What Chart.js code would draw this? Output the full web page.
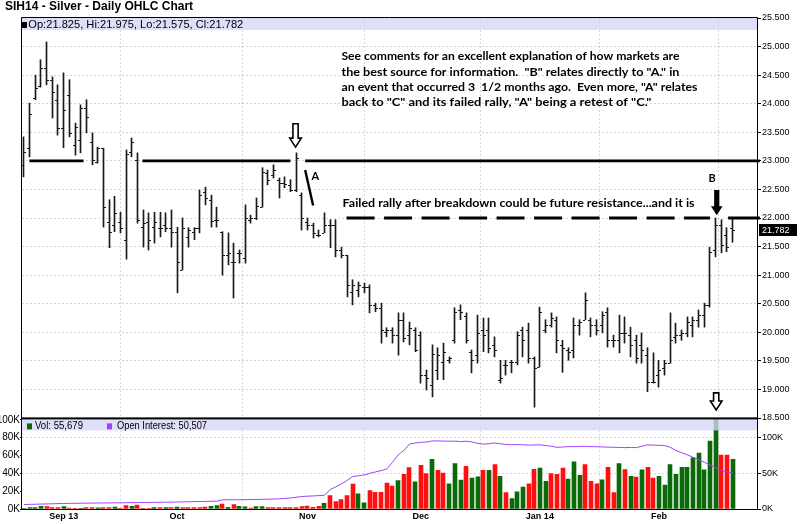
<!DOCTYPE html>
<html>
<head>
<meta charset="utf-8">
<script src="https://cdn.jsdelivr.net/npm/chart.js@4.4.0/dist/chart.umd.min.js"></script>
<style>
  html, body { margin: 0; padding: 0; background: #fff; }
  #wrap { position: relative; width: 800px; height: 524px; overflow: hidden; }
  #priceCanvas { position: absolute; left: 0; top: 0; }
  #volCanvas { position: absolute; left: 0; top: 412px; }
</style>
</head>
<body>
<div id="wrap">
  <canvas id="priceCanvas" width="800" height="430"></canvas>
  <canvas id="volCanvas" width="800" height="112"></canvas>
</div>
<script>
// SIH14 daily OHLC with volume / open interest panel

const chartTitle = 'SIH14 - Silver - Daily OHLC Chart';

const dates = [
  '2013-08-22','2013-08-23','2013-08-26','2013-08-27','2013-08-28','2013-08-29','2013-08-30',
  '2013-09-03','2013-09-04','2013-09-05','2013-09-06','2013-09-09','2013-09-10','2013-09-11','2013-09-12','2013-09-13',
  '2013-09-16','2013-09-17','2013-09-18','2013-09-19','2013-09-20','2013-09-23','2013-09-24','2013-09-25','2013-09-26','2013-09-27','2013-09-30',
  '2013-10-01','2013-10-02','2013-10-03','2013-10-04','2013-10-07','2013-10-08','2013-10-09','2013-10-10','2013-10-11',
  '2013-10-14','2013-10-15','2013-10-16','2013-10-17','2013-10-18','2013-10-21','2013-10-22','2013-10-23','2013-10-24','2013-10-25',
  '2013-10-28','2013-10-29','2013-10-30','2013-10-31',
  '2013-11-01','2013-11-04','2013-11-05','2013-11-06','2013-11-07','2013-11-08','2013-11-11','2013-11-12','2013-11-13','2013-11-14','2013-11-15',
  '2013-11-18','2013-11-19','2013-11-20','2013-11-21','2013-11-22','2013-11-25','2013-11-26','2013-11-27','2013-11-29',
  '2013-12-02','2013-12-03','2013-12-04','2013-12-05','2013-12-06','2013-12-09','2013-12-10','2013-12-11','2013-12-12','2013-12-13',
  '2013-12-16','2013-12-17','2013-12-18','2013-12-19','2013-12-20','2013-12-23','2013-12-24','2013-12-26','2013-12-27','2013-12-30','2013-12-31',
  '2014-01-02','2014-01-03','2014-01-06','2014-01-07','2014-01-08','2014-01-09','2014-01-10','2014-01-13','2014-01-14','2014-01-15',
  '2014-01-16','2014-01-17','2014-01-21','2014-01-22','2014-01-23','2014-01-24','2014-01-27','2014-01-28','2014-01-29','2014-01-30','2014-01-31',
  '2014-02-03','2014-02-04','2014-02-05','2014-02-06','2014-02-07','2014-02-10','2014-02-11','2014-02-12','2014-02-13','2014-02-14',
  '2014-02-18','2014-02-19','2014-02-20','2014-02-21'
];

const opens = [
  22.93,23.23,24.10,24.31,24.63,24.42,24.07,
  23.58,24.15,23.28,23.37,23.93,23.33,22.98,23.22,21.93,21.88,
  21.93,21.62,23.16,23.02,21.84,21.93,21.84,21.83,21.88,21.83,
  21.76,21.09,21.67,21.76,21.83,22.45,22.32,21.97,21.76,21.35,
  21.23,21.39,21.30,21.97,22.00,22.19,22.79,22.75,22.67,22.61,
  22.58,22.49,22.40,21.93,21.88,21.70,21.74,21.88,21.88,21.44,
  21.35,20.70,20.74,20.79,20.79,20.48,20.43,20.01,20.04,19.95,
  20.22,19.95,20.04,19.95,19.25,19.08,19.34,19.48,19.51,19.86,
  20.39,20.29,19.66,19.60,20.04,20.04,19.78,19.17,19.43,19.48,
  19.48,20.04,20.04,19.55,19.40,20.04,20.13,20.22,19.78,19.69,
  19.69,20.13,20.22,20.22,20.13,20.13,20.36,19.86,19.86,19.99,
  19.95,19.86,19.78,19.60,19.13,19.25,19.38,19.46,19.92,19.95,
  19.99,20.13,20.22,20.30,20.48,21.44,21.88,21.70,21.825
];
const highs = [
  23.42,24.01,24.50,24.77,25.08,24.47,24.33,
  24.54,24.42,23.66,23.98,24.07,23.49,23.24,23.22,22.32,22.38,
  22.10,23.19,23.40,23.14,22.14,22.09,22.10,22.10,22.09,22.14,
  21.84,22.00,21.83,21.83,22.49,22.54,22.40,22.19,21.76,21.74,
  21.56,21.44,22.23,22.05,22.35,22.88,22.84,22.93,22.70,22.72,
  22.67,23.14,22.44,22.00,21.91,21.79,22.09,21.97,21.97,21.49,
  21.35,20.92,20.88,20.86,20.83,20.51,20.51,20.08,20.08,20.34,
  20.34,20.18,20.08,20.01,19.34,19.78,19.73,19.81,19.57,20.43,
  20.48,20.34,19.69,20.30,20.25,20.25,19.92,19.51,19.51,19.51,
  20.01,20.09,20.16,19.57,20.44,20.22,20.34,20.27,19.86,19.73,
  20.25,20.22,20.69,20.25,20.22,20.36,20.43,19.95,20.30,20.27,
  20.09,19.95,19.99,19.73,19.64,19.51,19.51,20.34,20.16,20.04,
  20.27,20.27,20.39,20.51,21.49,22.00,21.97,21.83,21.975
];
const lows = [
  22.72,23.07,24.07,24.29,24.33,23.75,23.45,
  23.23,23.42,23.10,23.14,23.49,22.93,22.96,21.84,21.48,21.76,
  21.74,21.28,23.07,21.91,21.49,21.44,21.56,21.67,21.76,21.49,
  20.69,21.09,21.49,21.62,21.74,22.23,21.84,21.84,21.00,21.18,
  20.60,21.21,21.21,21.91,21.97,22.19,22.58,22.70,22.35,22.53,
  22.46,22.46,21.79,21.79,21.65,21.67,21.74,21.48,21.32,21.30,
  20.62,20.48,20.62,20.69,20.34,20.36,19.81,19.92,19.81,19.60,
  19.83,19.78,19.66,19.11,18.99,18.87,19.17,19.17,19.46,19.81,
  20.22,19.81,19.29,19.46,19.66,19.64,19.57,19.11,19.25,19.29,
  19.43,19.57,19.46,18.69,19.39,19.99,20.09,19.64,19.30,19.51,
  19.55,19.95,20.22,19.92,19.95,19.99,19.74,19.74,19.64,19.81,
  19.57,19.46,19.46,18.96,19.11,19.04,19.25,19.46,19.81,19.86,
  19.92,19.92,20.09,20.09,20.44,21.32,21.39,21.41,21.575
];
const closes = [
  23.15,23.82,24.28,24.63,24.42,24.21,23.58,
  23.89,23.49,23.59,23.92,23.77,23.02,23.22,22.19,21.76,22.09,
  21.83,23.12,23.33,21.97,21.91,21.62,21.93,21.83,21.83,21.76,
  21.23,21.83,21.79,21.83,22.40,22.35,21.95,21.97,21.35,21.39,
  21.23,21.39,22.00,22.00,22.21,22.81,22.67,22.84,22.61,22.60,
  22.49,23.05,22.00,21.88,21.74,21.70,21.88,21.88,21.44,21.35,
  20.83,20.83,20.83,20.79,20.48,20.43,20.04,20.04,19.95,20.22,
  19.90,20.08,19.69,19.25,19.20,19.62,19.60,19.66,19.55,20.36,
  20.36,19.86,19.51,19.99,19.95,19.73,19.69,19.20,19.43,19.48,
  19.95,19.86,19.55,19.38,20.36,20.13,20.25,19.86,19.73,19.66,
  20.13,20.18,20.57,20.13,20.04,20.30,19.86,19.86,19.99,19.99,
  19.78,19.55,19.69,19.13,19.13,19.34,19.46,19.86,19.95,19.99,
  20.18,20.22,20.30,20.48,21.40,21.88,21.53,21.50,21.782
];

// volume and open interest in thousands of contracts
const volumes = [
  0.5,1.5,1.5,3,2.6,1.5,1.5,
  2.6,1,0.3,0.3,1.5,1.5,1.2,1.5,1.5,2.2,
  0.3,3.8,3,4.5,0.3,0.3,1.5,1.5,1.5,1.5,
  2.2,1.5,1.5,1.5,1.5,2.2,3,3.8,5.6,1.9,
  4.9,3,2.3,1.1,2.6,2.6,1.5,1.5,1.5,1.5,
  1.5,1.5,2.6,3.4,1.9,3,6.4,15,8.3,10.5,
  15,28,17,6.8,20.7,18.8,18.8,29,25.6,32,
  38.9,46.4,30.6,49,39.6,55.8,43.4,40.4,28.3,50.9,
  32.5,47.9,34.7,36.2,43.4,43.4,49.8,36.6,18.5,11.7,
  19.2,24.5,28.3,44.5,46,30.9,39.6,38.9,46,33.6,
  52.8,37.7,49.8,30.9,28.3,32.8,46.8,18.5,50.9,44.2,
  36.6,35.8,43.8,46.8,34.7,36.6,26.8,49.8,38.9,46.8,
  46.8,57.4,62.6,43.8,76.2,104,60.4,60.4,55.679
];
const volumeUp = [
  1,1,1,1,0,0,0,
  1,0,0,1,0,0,1,0,0,1,
  0,0,1,0,0,0,1,0,1,0,
  1,0,0,0,0,0,1,1,0,1,
  0,1,1,0,1,1,0,0,0,0,
  0,0,0,0,0,0,1,0,0,0,
  0,0,1,1,0,0,0,0,0,1,
  0,0,1,0,0,1,0,0,1,1,
  1,0,1,1,0,1,0,1,0,1,
  1,1,0,0,1,1,0,0,0,1,
  1,1,0,0,0,1,0,0,1,0,
  1,0,1,0,0,1,1,1,1,1,
  1,1,1,1,1,1,0,0,1
];
const openInterest = [
  6.3,6.5,6.7,6.9,7.1,7.3,7.5,
  7.7,7.9,8.0,8.1,8.2,8.3,8.4,8.5,8.5,8.6,
  8.7,8.8,8.9,9.0,9.1,9.2,9.3,9.4,9.5,9.6,
  9.8,10.0,10.2,10.3,10.5,10.6,10.8,11.0,12.8,13.0,
  13.0,12.9,13.1,13.3,13.4,13.6,13.8,14.0,14.3,14.8,
  15.5,16.5,17.5,18.0,18.3,18.8,19.2,27.3,31.0,35.2,
  40.0,45.5,46.5,47.8,50.0,52.0,53.8,56.2,65.5,75.8,
  82,91,92.5,93.4,94,95.4,95.4,95.2,95,95.2,
  94.5,95,94,92,91,91.5,92.6,91.5,90.5,90,
  90.3,90,89.5,89.8,90,89,88,86.5,86.8,87.5,
  87.3,87.8,88,87.5,87.3,87,86.7,86.5,86.3,86,
  86.3,86,88,89.8,89.5,89.3,89,86.5,82,79,
  76,72.5,69,65.5,62,58,53.8,52,50.507
];

const priceTicks = [18.5, 19, 19.5, 20, 20.5, 21, 21.5, 22, 22.5, 23, 23.5, 24, 24.5, 25, 25.5];
const volTicks = [0, 20, 40, 60, 80, 100];
const oiTicks = [0, 50, 100];

// notes drawn on the price panel (bar index, price)
const resistanceLevel = 23.0;
const resistanceSpans = [[0.95, 10.5], [20.9, 47.0], [49.6, 129.8]];
const failedLevel = 22.0;
const failedDashed = [56.9, 121.0];
const failedSolid = [124.2, 129.8];
const slashA = [[49.6, 22.84], [51.0, 22.22]];
const arrows = [
  { at: 47.9, top: 23.65, bottom: 23.24, filled: false },
  { at: 122.2, top: 22.49, bottom: 22.05, filled: true },
  { at: 122.1, top: 18.94, bottom: 18.64, filled: false }
];
const commentLines = [
  'See comments for an excellent explanation of how markets are',
  'the best source for information.  "B" relates directly to "A." in',
  'an event that occurred 3  1/2 months ago.  Even more, "A" relates',
  'back to "C" and its failed rally, "A" being a retest of "C."'
];
const commentLevels = [24.835, 24.56, 24.29, 24.02];
const commentWidths = [338, 338, 356, 310];
const failedNote = 'Failed rally after breakdown could be future resistance...and it is';

const barInk = '#1a1a1a';
const volGreen = '#0a6a0a';
const volRed = '#ff1010';
const oiPurple = '#a040ff';
const gridGrey = 'rgba(0,0,0,0.16)';
const bandLavender = 'rgba(214,214,248,0.78)';
const axisFont = { family: "'Liberation Sans', Arial, sans-serif", size: 9 };
const volFont = { family: "'Liberation Sans', Arial, sans-serif", size: 10 };
const xMin = -0.35, xMax = 129.3;
const last = dates.length - 1;

const monthNames = ['Jan','Feb','Mar','Apr','May','Jun','Jul','Aug','Sep','Oct','Nov','Dec'];
const monthStarts = dates.map((d, i) => i).filter(i => i > 0 && dates[i].slice(5, 7) !== dates[i - 1].slice(5, 7));

function monthLabel(i) {
  const name = monthNames[+dates[i].slice(5, 7) - 1];
  if (i === monthStarts[0] || dates[i].slice(5, 7) === '01') return name + ' ' + dates[i].slice(2, 4);
  return name;
}

function fitText(ctx, text, x, y, width) {
  const w = ctx.measureText(text).width;
  ctx.save();
  ctx.translate(x, y);
  ctx.scale(width / w, 1);
  ctx.fillText(text, 0, 0);
  ctx.restore();
}

function drawArrow(ctx, cx, yTop, yBot, filled) {
  const stem = 2.6, head = 5.8, headH = 9;
  ctx.beginPath();
  ctx.moveTo(cx - stem, yTop);
  ctx.lineTo(cx + stem, yTop);
  ctx.lineTo(cx + stem, yBot - headH);
  ctx.lineTo(cx + head, yBot - headH);
  ctx.lineTo(cx, yBot);
  ctx.lineTo(cx - head, yBot - headH);
  ctx.lineTo(cx - stem, yBot - headH);
  ctx.closePath();
  if (filled) {
    ctx.fillStyle = '#000';
    ctx.fill();
  } else {
    ctx.fillStyle = '#fff';
    ctx.fill();
    ctx.lineWidth = 1.6;
    ctx.strokeStyle = '#000';
    ctx.stroke();
  }
}

function timeAxis(showLabels) {
  return {
    type: 'linear',
    min: xMin,
    max: xMax,
    offset: false,
    afterBuildTicks: s => { s.ticks = monthStarts.map(v => ({ value: v })); },
    grid: { color: gridGrey, drawTicks: false },
    border: { display: false, dash: [2, 2] },
    ticks: showLabels
      ? { autoSkip: false, maxRotation: 0, padding: 2, color: '#000',
          font: { family: axisFont.family, size: 9, weight: 'bold' },
          callback: v => monthLabel(v) }
      : { display: false },
    afterFit: s => { s.height = showLabels ? 15 : 0; }
  };
}

// snap bars to whole pixels so the thin OHLC lines stay crisp
const snapBars = {
  id: 'snapBars',
  beforeDatasetsDraw(chart) {
    chart.data.datasets.forEach((ds, di) => {
      const meta = chart.getDatasetMeta(di);
      if (meta.type !== 'bar') return;
      meta.data.forEach(el => { el.x = ds.barThickness % 2 ? Math.floor(el.x) + 0.5 : Math.round(el.x); });
    });
  }
};

const ohlcTicks = {
  id: 'ohlcTicks',
  afterDatasetsDraw(chart) {
    const { ctx, scales: { y } } = chart;
    const bars = chart.getDatasetMeta(0).data;
    ctx.save();
    ctx.fillStyle = barInk;
    bars.forEach((bar, i) => {
      const yo = Math.round(y.getPixelForValue(opens[i]));
      const yc = Math.round(y.getPixelForValue(closes[i]));
      ctx.fillRect(bar.x - 2.5, yo, 2, 1);
      ctx.fillRect(bar.x + 0.5, yc, 2, 1);
    });
    ctx.restore();
  }
};

const priceDecor = {
  id: 'priceDecor',
  beforeDatasetsDraw(chart) {
    const { ctx, chartArea: a } = chart;
    ctx.save();
    ctx.fillStyle = bandLavender;
    ctx.fillRect(a.left, a.top, a.right - a.left, 12);
    ctx.fillStyle = '#000';
    ctx.fillRect(a.left, a.top + 4, 5, 6);
    ctx.font = "10.5px 'Liberation Sans', Arial, sans-serif";
    ctx.textBaseline = 'middle';
    const info = 'Op:' + opens[last].toFixed(3) + ', Hi:' + highs[last].toFixed(3) +
      ', Lo:' + lows[last].toFixed(3) + ', Cl:' + closes[last].toFixed(3);
    fitText(ctx, info, a.left + 6.3, a.top + 7, 215);
    ctx.restore();
  },
  afterDraw(chart) {
    const { ctx, chartArea: a, scales: { x, y } } = chart;
    const px = v => x.getPixelForValue(v);
    const py = v => y.getPixelForValue(v);
    ctx.save();

    // resistance line at 23 and failed-rally line at 22
    ctx.strokeStyle = '#000';
    ctx.lineWidth = 2.6;
    ctx.beginPath();
    resistanceSpans.forEach(([s, e]) => {
      ctx.moveTo(px(s), py(resistanceLevel));
      ctx.lineTo(px(e), py(resistanceLevel));
    });
    ctx.stroke();
    ctx.lineWidth = 3;
    ctx.setLineDash([28, 9.5]);
    ctx.beginPath();
    ctx.moveTo(px(failedDashed[0]), py(failedLevel));
    ctx.lineTo(px(failedDashed[1]), py(failedLevel));
    ctx.stroke();
    ctx.setLineDash([]);
    ctx.beginPath();
    ctx.moveTo(px(failedSolid[0]), py(failedLevel));
    ctx.lineTo(px(failedSolid[1]), py(failedLevel));
    ctx.stroke();

    // "A" slash
    ctx.lineWidth = 2.4;
    ctx.beginPath();
    ctx.moveTo(px(slashA[0][0]), py(slashA[0][1]));
    ctx.lineTo(px(slashA[1][0]), py(slashA[1][1]));
    ctx.stroke();

    arrows.forEach(ar => drawArrow(ctx, px(ar.at), py(ar.top), py(ar.bottom), ar.filled));

    // notes
    ctx.fillStyle = '#000';
    ctx.textBaseline = 'middle';
    ctx.font = "bold 12px Lato, 'Open Sans', sans-serif";
    commentLines.forEach((t, i) => fitText(ctx, t, px(56.0), py(commentLevels[i]), commentWidths[i]));
    fitText(ctx, failedNote, px(56.2), py(22.26), 352);
    ctx.font = "bold 11px Lato, 'Open Sans', sans-serif";
    ctx.textAlign = 'center';
    ctx.fillText('A', px(51.4), py(22.735));
    ctx.fillText('B', px(121.4), py(22.70));
    ctx.textAlign = 'left';

    // frame
    ctx.strokeStyle = '#000';
    ctx.lineWidth = 1;
    ctx.beginPath();
    ctx.moveTo(a.left - 0.5, a.bottom);
    ctx.lineTo(a.left - 0.5, a.top - 0.5);
    ctx.lineTo(a.right + 0.5, a.top - 0.5);
    ctx.lineTo(a.right + 0.5, a.bottom);
    ctx.stroke();

    // last close marker on the axis
    const yc = py(closes[last]);
    ctx.fillStyle = '#000';
    ctx.fillRect(a.right + 2, Math.round(yc) - 6, 38, 12);
    ctx.fillStyle = '#fff';
    ctx.font = "9px 'Liberation Sans', Arial, sans-serif";
    ctx.fillText(closes[last].toFixed(3), a.right + 5, yc);

    // title
    ctx.fillStyle = '#000';
    ctx.font = "bold 12px 'Liberation Sans', Arial, sans-serif";
    ctx.fillText(chartTitle, 5, 7);
    ctx.restore();
  }
};

const volDecor = {
  id: 'volDecor',
  afterDatasetsDraw(chart) {
    const { ctx, chartArea: a } = chart;
    ctx.save();
    ctx.fillStyle = bandLavender;
    ctx.fillRect(a.left, a.top, a.right - a.left, 12);
    ctx.fillStyle = volGreen;
    ctx.fillRect(a.left + 5, a.top + 5, 5, 6);
    ctx.fillStyle = oiPurple;
    ctx.fillRect(a.left + 85, a.top + 5, 5, 6);
    ctx.fillStyle = '#000';
    ctx.font = "10.5px 'Liberation Sans', Arial, sans-serif";
    ctx.textBaseline = 'middle';
    fitText(ctx, 'Vol: ' + Math.round(volumes[last] * 1000).toLocaleString('en-US'), a.left + 13, a.top + 8, 48);
    fitText(ctx, 'Open Interest: ' + Math.round(openInterest[last] * 1000).toLocaleString('en-US'), a.left + 95, a.top + 8, 90);

    ctx.fillRect(a.left - 1, a.top - 1, a.right - a.left + 2, 2);
    ctx.strokeStyle = '#000';
    ctx.lineWidth = 1;
    ctx.beginPath();
    ctx.moveTo(a.left - 0.5, a.top);
    ctx.lineTo(a.left - 0.5, a.bottom + 0.5);
    ctx.lineTo(a.right + 0.5, a.bottom + 0.5);
    ctx.lineTo(a.right + 0.5, a.top);
    ctx.stroke();
    ctx.restore();
  }
};

Chart.defaults.color = '#000';

new Chart(document.getElementById('priceCanvas'), {
  type: 'bar',
  data: {
    datasets: [{
      label: 'High-Low',
      data: dates.map((d, i) => ({ x: i, y: [lows[i], highs[i]] })),
      backgroundColor: barInk,
      barThickness: 1,
      borderWidth: 0
    }]
  },
  options: {
    responsive: false,
    animation: false,
    events: [],
    layout: { padding: { left: 22, top: 18, right: 0, bottom: 12 } },
    plugins: { legend: { display: false }, tooltip: { enabled: false } },
    scales: {
      x: timeAxis(false),
      y: {
        position: 'right',
        min: 18.5,
        max: 25.5,
        afterBuildTicks: s => { s.ticks = priceTicks.map(v => ({ value: v })); },
        ticks: { color: '#000', font: axisFont, padding: 1, callback: v => v.toFixed(3) },
        grid: { color: gridGrey, tickColor: '#000', tickLength: 4 },
        border: { display: false, dash: [2, 2] },
        afterFit: s => { s.width = 43; }
      }
    }
  },
  plugins: [snapBars, priceDecor, ohlcTicks]
});

new Chart(document.getElementById('volCanvas'), {
  type: 'bar',
  data: {
    datasets: [
      {
        type: 'line',
        label: 'Open Interest',
        yAxisID: 'oi',
        data: openInterest.map((v, i) => ({ x: i, y: v })),
        borderColor: oiPurple,
        borderWidth: 1,
        pointRadius: 0,
        tension: 0,
        order: 0
      },
      {
        type: 'bar',
        label: 'Vol',
        yAxisID: 'vol',
        data: volumes.map((v, i) => ({ x: i, y: v })),
        backgroundColor: volumeUp.map(u => (u ? volGreen : volRed)),
        barThickness: 4,
        borderWidth: 0,
        order: 1
      }
    ]
  },
  options: {
    responsive: false,
    animation: false,
    events: [],
    layout: { padding: { left: 0, top: 6, right: 0, bottom: 0 } },
    plugins: { legend: { display: false }, tooltip: { enabled: false } },
    scales: {
      x: timeAxis(true),
      vol: {
        position: 'left',
        min: 0,
        max: 101.6,
        afterBuildTicks: s => { s.ticks = volTicks.map(v => ({ value: v })); },
        ticks: { color: '#000', font: volFont, padding: 0, callback: v => v + 'K' },
        grid: { drawOnChartArea: false, tickLength: 2, tickColor: '#000' },
        border: { display: false },
        afterFit: s => { s.width = 22; }
      },
      oi: {
        position: 'right',
        min: 0,
        max: 127,
        afterBuildTicks: s => { s.ticks = oiTicks.map(v => ({ value: v })); },
        ticks: { color: '#000', font: axisFont, padding: 1, callback: v => v + 'K' },
        grid: { color: gridGrey, tickColor: '#000', tickLength: 4 },
        border: { display: false, dash: [2, 2] },
        afterFit: s => { s.width = 43; }
      }
    }
  },
  plugins: [snapBars, volDecor]
});
</script>
</body>
</html>
